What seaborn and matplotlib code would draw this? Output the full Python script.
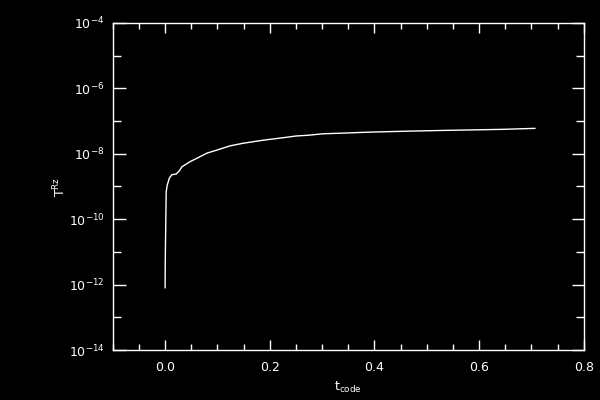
import numpy as np
import pandas as pd
import seaborn as sns
import matplotlib
matplotlib.use("Agg")
import matplotlib.pyplot as plt
from matplotlib.ticker import FixedLocator, FuncFormatter, MultipleLocator, NullFormatter

# values
t_code = [0.000, 0.0002, 0.002, 0.004, 0.008, 0.013, 0.021, 0.027, 0.032, 0.048,
          0.060, 0.080, 0.099, 0.124, 0.149, 0.187, 0.232, 0.250, 0.274, 0.302,
          0.342, 0.391, 0.458, 0.535, 0.646, 0.707]
T_Rz = [7.9e-13, 4.5e-12, 6.8e-10, 1.1e-9, 1.8e-9, 2.3e-9, 2.4e-9, 3.0e-9, 4.0e-9, 5.8e-9,
        7.2e-9, 1.05e-8, 1.3e-8, 1.75e-8, 2.1e-8, 2.6e-8, 3.2e-8, 3.5e-8, 3.7e-8, 4.1e-8,
        4.3e-8, 4.6e-8, 4.9e-8, 5.2e-8, 5.6e-8, 6.0e-8]

y_major = [1e-14, 1e-12, 1e-10, 1e-8, 1e-6, 1e-4]
y_minor = [1e-13, 1e-11, 1e-9, 1e-7, 1e-5]

df = pd.DataFrame({"t": t_code, "T": T_Rz})

sns.set_style("dark", {"axes.facecolor": "black", "figure.facecolor": "black"})
plt.rcParams["font.family"] = ["DejaVu Sans"]

fig = plt.figure(figsize=(6, 4), dpi=100, facecolor="black")
ax = fig.add_axes([0.188, 0.125, 0.785, 0.8175])
ax.set_facecolor("black")

sns.lineplot(data=df, x="t", y="T", color="white", linewidth=1.0,
             estimator=None, sort=False, ax=ax)

ax.set_yscale("log")
ax.set_xlim(-0.1, 0.8)
ax.set_ylim(1e-14, 1e-4)

ax.xaxis.set_major_locator(MultipleLocator(0.2))
ax.xaxis.set_minor_locator(MultipleLocator(0.05))
ax.xaxis.set_major_formatter(FuncFormatter(lambda v, p: f"{v:.1f}"))
ax.yaxis.set_major_locator(FixedLocator(y_major))
ax.yaxis.set_minor_locator(FixedLocator(y_minor))
ax.yaxis.set_major_formatter(FuncFormatter(lambda v, p: r"$10^{%d}$" % round(np.log10(v))))
ax.yaxis.set_minor_formatter(NullFormatter())

ax.tick_params(which="both", direction="in", colors="white", top=True, right=True,
               left=True, bottom=True, labelsize=9, width=1)
ax.tick_params(axis="x", which="major", length=7, pad=8)
ax.tick_params(axis="x", which="minor", length=4)
ax.tick_params(axis="y", which="major", length=9, pad=6)
ax.tick_params(axis="y", which="minor", length=6)
ax.grid(False)

for s in ax.spines.values():
    s.set_color("white")
    s.set_linewidth(1)
    s.set_visible(True)

ax.set_xlabel(r"$\mathregular{t_{code}}$", color="white", fontsize=9, labelpad=4)
ax.set_ylabel(r"$\mathregular{T^{Rz}}$", color="white", fontsize=9, labelpad=0)

fig.savefig("out.png", dpi=100, facecolor="black")
